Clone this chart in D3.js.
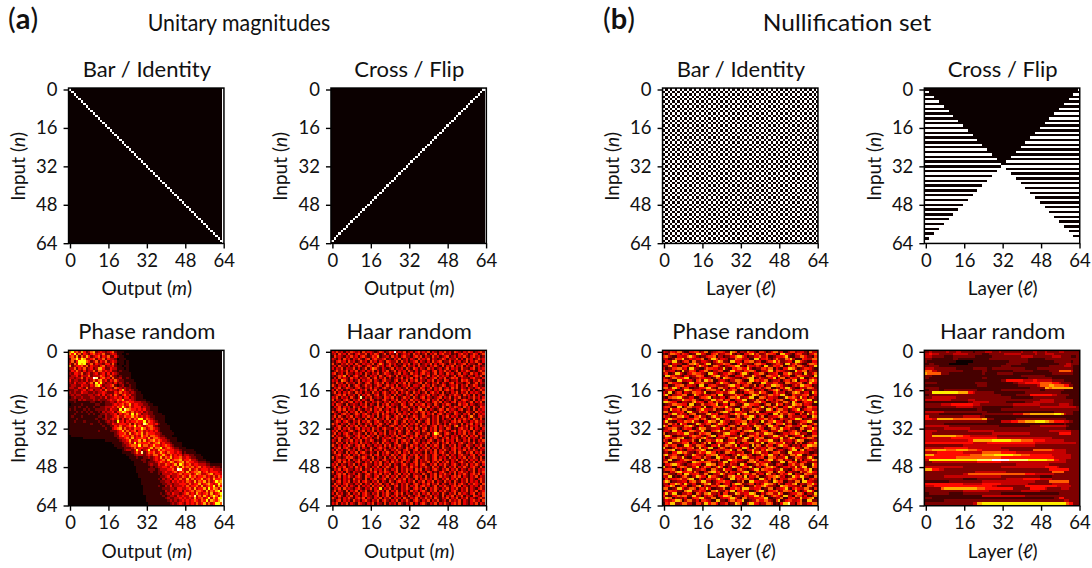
<!DOCTYPE html>
<html>
<head>
<meta charset="utf-8">
<script src="https://cdnjs.cloudflare.com/ajax/libs/d3/7.8.5/d3.min.js"></script>
<style>
body { margin: 0; background: #fff; }
text { font-family: Lato, "Noto Sans", sans-serif; fill: #111; }
</style>
</head>
<body>
<div id="chart"></div>
<script>
// tick labels shared by all panels
var tickValues = [0, 16, 32, 48, 64];

// bright column in each row (last entry is the clipped bottom row, which has none)
var barColumns = [0,1,2,3,4,5,6,7,8,9,10,11,12,13,14,15,16,17,18,19,20,21,22,23,24,25,26,27,28,29,30,31,32,33,34,35,36,37,38,39,40,41,42,43,44,45,46,47,48,49,50,51,52,53,54,55,56,57,58,59,60,61,62,63,-1];
var crossColumns = [63,62,61,60,59,58,57,56,55,54,53,52,51,50,49,48,47,46,45,44,43,42,41,40,39,38,37,36,35,34,33,32,31,30,29,28,27,26,25,24,23,22,21,20,19,18,17,16,15,14,13,12,11,10,9,8,7,6,5,4,3,2,1,0,-1];

// checkerboard rows
var checkA = "10101010 10101010 10101010 10101010 10101010 10101010 10101010 10101010 1";
var checkB = "01010101 01010101 01010101 01010101 01010101 01010101 01010101 01010101 0";
var checkOrder = "ABABABABABABABABABABABABABABABABABABABABABABABABABABABABABABABABA";

// white run [from, to] in each row of the flip nullification
var flipFrom = [64,0,62,0,60,0,58,0,56,0,54,0,52,0,50,0,48,0,46,0,44,0,42,0,40,0,38,0,36,0,34,0,32,0,30,0,28,0,26,0,24,0,22,0,20,0,18,0,16,0,14,0,12,0,10,0,8,0,6,0,4,0,2,0];
var flipTo = [64,1,64,3,64,5,64,7,64,9,64,11,64,13,64,15,64,17,64,19,64,21,64,23,64,25,64,27,64,29,64,31,64,33,64,35,64,37,64,39,64,41,64,43,64,45,64,47,64,49,64,51,64,53,64,55,64,57,64,59,64,61,64,64];

// colour value of each level 0-9, per table
var levelsPhaseUnitary = [0, 0.08, 0.17, 0.27, 0.38, 0.5, 0.62, 0.75, 0.88, 1];
var levelsHaarUnitary = [0, 0.11, 0.22, 0.33, 0.44, 0.55, 0.67, 0.78, 0.89, 1];
var levelsPhaseNull = [0, 0.1, 0.19, 0.27, 0.34, 0.42, 0.52, 0.66, 0.88, 1];
var levelsHaarNull = [0, 0.1, 0.18, 0.28, 0.38, 0.5, 0.62, 0.72, 0.85, 1];
var levelsPlain = [0, 0.11, 0.22, 0.33, 0.44, 0.55, 0.67, 0.78, 0.89, 1];

// levels 0-9
var phaseUnitary = [
"57453642 35623432 34521110 00000000 00000000 00000000 00000000 00000000",
"64735243 24534352 23431100 10000000 00000000 00000000 00000000 00000000",
"45362536 42345243 52242110 00000000 00000000 00000000 00000000 00000000",
"25574763 34524352 43320111 00000000 00000000 00000000 00000000 00000000",
"35247775 42352435 23431110 10000000 00000000 00000000 00000000 00000000",
"42537672 35243324 42520110 10000000 00000000 00000000 00000000 00000000",
"62344535 24332452 33421101 10000000 00000000 00000000 00000000 00000000",
"33524352 34236642 24331110 10000000 00000000 00000000 00000000 00000000",
"24353242 33525534 34221211 10000000 00000000 00000000 00000000 00000000",
"32443523 42342342 42432111 11000000 00000000 00000000 00000000 00000000",
"23342433 52333542 35321211 11000000 00000000 00000000 00000000 00000000",
"33233524 33982453 42522311 21000000 00000000 00000000 00000000 00000000",
"42332324 23535634 24353221 11100000 00000000 00000000 00000000 00000000",
"32423342 35274732 33242321 21110000 00000000 00000000 00000000 00000000",
"23322433 24367423 34521231 12110000 00000000 00000000 00000000 00000000",
"33224325 23333242 33254323 22110000 00000000 00000000 00000000 00000000",
"22332342 34233425 34332463 23211000 00000000 00000000 00000000 00000000",
"32322433 22323343 22243534 32321100 00000000 00000000 00000000 00000000",
"23233222 33234242 34253245 34221110 00000000 00000000 00000000 00000000",
"12322322 23322324 23343424 42321110 00000000 00000000 00000000 00000000",
"22213232 22323222 34335463 34321111 00000000 00000000 00000000 00000000",
"11211111 12211212 23324344 54433322 11000000 00000000 00000000 00000000",
"01111211 11122112 22343453 46344332 21100000 00000000 00000000 00000000",
"11212112 11211223 33435474 35344423 22111000 00000000 00000000 00000000",
"21211121 21122223 24332738 65443434 22111000 00000000 00000000 00000000",
"11121212 12112132 33424576 43534342 32211000 00000000 00000000 00000000",
"11211111 21211223 23342434 53736423 32211110 00000000 00000000 00000000",
"12111211 11112213 22345335 44645343 43221111 00000000 00000000 00000000",
"11121111 11121123 23435242 35354773 54321111 00000000 00000000 00000000",
"11211121 11112112 32327342 43445447 35432111 00000000 00000000 00000000",
"11111111 12111211 22433444 35253438 64434211 10000000 00000000 00000000",
"11111111 11111121 12243533 45473543 45532111 11000000 00000000 00000000",
"11111111 11111112 11345635 34354475 34543211 11000000 00000000 00000000",
"11111111 11112111 12223463 53452453 43434211 11100000 00000000 00000000",
"11111111 11111111 11123445 36345463 54443321 11110000 00000000 00000000",
"01111111 11111111 11122454 43534364 53554322 11100000 00000000 00000000",
"00000011 11111111 11112334 53634454 36355433 21111000 00000000 00000000",
"00000000 00000001 11111233 46344636 34564543 32111000 00000000 00000000",
"00000000 00000000 00111123 35373544 45345634 33211110 00000000 00000000",
"00000000 00000000 00011122 34554735 53464434 54321110 00000000 00000000",
"00000000 00000000 00001112 22353443 34635573 45432211 10000000 00000000",
"00000000 00000000 00000012 33237423 47343645 44443321 11110000 00000000",
"00000000 00000000 00000011 11235382 35453464 35443431 21111000 00000000",
"00000000 00000000 00000000 11123332 34355346 43534342 33221110 00000000",
"00000000 00000000 00000000 01112112 23234363 54634453 34322111 00000000",
"00000000 00000000 00000000 00111122 11234345 36345563 44533211 10000000",
"00000000 00000000 00000000 00011112 12223454 34653456 35443322 21100000",
"00000000 00000000 00000000 00011111 12322433 54346375 34534433 32211111",
"00000000 00000000 00000000 00001111 11212334 43543636 45453453 43323221",
"00000000 00000000 00000000 00001111 12221233 34453984 33634534 44343332",
"00000000 00000000 00000000 00001111 11211223 43345345 36345563 45344433",
"00000000 00000000 00000000 00000111 11111213 33433453 44534653 34563443",
"00000000 00000000 00000000 00000111 11111122 34233435 43645344 53435354",
"00000000 00000000 00000000 00000011 11111213 23424353 36353446 34536445",
"00000000 00000000 00000000 00000011 11111122 33243434 35436354 63534756",
"00000000 00000000 00000000 00000011 11111112 23323344 43534463 45643475",
"00000000 00000000 00000000 00000001 11111211 32423334 35344536 34547364",
"00000000 00000000 00000000 00000001 11111112 22332443 34536344 63746536",
"00000000 00000000 00000000 00000001 11111111 32323342 43453554 36354673",
"00000000 00000000 00000000 00000001 11111121 23243323 45343643 45363457",
"00000000 00000000 00000000 00000000 11111112 12332434 33548353 64357536",
"00000000 00000000 00000000 00000000 11111111 23223343 43436345 34736477",
"00000000 00000000 00000000 00000000 11111111 12323234 34345435 47365468",
"00000000 00000000 00000000 00000000 01111111 11232343 24343534 63534775"
];

var haarUnitary = [
"32423132 43231423 32124312 43923241 23134232 41321324 23143213 24312342",
"23142314 21342241 32431241 32141232 31423124 13241342 23121342 31243124",
"14232132 42313421 24351223 14231342 21342413 21423123 41231324 21342312",
"32131423 13242134 13422341 21324123 13214232 41321243 13224131 42312423",
"21342314 23124231 42313214 32241423 12341321 31423412 24132312 41324213",
"41213242 31421323 24135312 42312132 41324123 24131342 13241234 13221431",
"23142213 13243124 31242313 41321241 32314223 13242141 32413241 32142312",
"31324132 24131241 35421321 24132314 21431321 42312312 41323142 21341323",
"12423241 32412313 24131324 12413231 42131243 21341324 23124132 43121342",
"34123142 21323142 13241243 21324132 14231342 31241321 42312413 21423124",
"21243513 13421241 32314213 42141323 21342312 41324232 31241342 13213241",
"13142321 42313224 12413241 31232413 24131423 12341324 12434132 21342213",
"32315421 31241323 41321342 21341324 13241321 32413214 31223143 42132431",
"21423142 23142134 21342413 12313241 42123414 21324132 13413221 34124132",
"42132314 12431242 31243124 23141232 41332142 31421243 12324132 41243121",
"13241243 21342132 41321342 14233124 13221431 24132412 31424132 13213423",
"31423121 34213241 32413121 32413421 32313241 32132413 42312143 24131242",
"24131324 21423132 14231342 13241324 21423124 13423141 21324132 41323214",
"12342413 23141324 21341242 31413213 24131232 41321342 13243214 23141321",
"32413231 42138132 41232143 24131242 31421341 32123413 24132412 13242313",
"41321342 13241321 43121342 13241323 14232132 41324131 23142134 32141324",
"23124213 41323142 13242132 41324231 32414213 21342413 21341323 12413241",
"31432141 23213241 32141324 13221431 24132341 32142132 43121423 41321232",
"13241323 14231342 21342413 42131243 12314232 41323142 13243214 23142143",
"21342413 23142132 41324123 13241322 41324514 13212431 42321341 23141323",
"42131241 32414213 21342314 23142132 13241342 31241324 13243121 43214232",
"13213423 12431342 13241423 12314232 41321241 32413421 32143213 24141323",
"24142132 41321324 23141324 21342413 12431243 21324132 41323142 13521342",
"31324213 24132141 32412314 13242134 23141322 41324131 23141324 23142141",
"12431342 13241324 21342132 41431241 32314213 41324123 21342413 21324232",
"42313214 23142132 41324213 12431324 13242132 41324213 14232141 32413241",
"21342141 32413241 32143121 34213241 32131423 12341324 23145132 41323142",
"13241324 21341323 14231342 21342314 23142134 13241321 43121342 31413213",
"32413213 42132413 24132141 32314213 41323142 13241423 21341324 23142132",
"24131342 13242141 32413241 32413214 32143122 41375213 42131324 13241341",
"41321243 21342314 23142132 13241342 13241324 21342413 21323142 41324132",
"13243124 13241342 31241323 42134213 24132314 13242132 41324123 14232141",
"32141232 41324132 43121342 13241342 31423121 34213241 32314213 24131324",
"21423141 32314232 13241423 21341324 21342132 41324132 41321342 13241232",
"42131324 21342413 21323142 41324213 14231324 13243142 13241321 43213241",
"13241342 13241321 42134231 32413214 23142132 41323142 21342313 24131423",
"31423124 23142132 41323142 13242134 21341324 23141324 21341324 13242132",
"24132141 32413421 32141324 21324132 41323214 13241342 13241421 32413241",
"12341324 13241232 41341323 14231342 13241324 21342132 41321342 21341323",
"41321243 42132431 24132141 32413241 32143124 21341323 14231324 13242141",
"21342314 13241323 14231342 13241342 31241324 21342413 21324132 41323142",
"13241423 21342132 41324123 14232413 21341322 41324132 41321342 13241324",
"32413213 24131342 21324132 41321342 13241342 13241324 21342132 41324213",
"24132412 31423142 13241324 21341323 14231324 21423124 13241324 21342141",
"13241342 21324132 41323142 13241324 23142413 21342132 41324132 13241323",
"41323142 13221341 32413243 21341324 13241321 43121342 13241342 31241324",
"21342413 23142134 21324132 41324132 41322142 13241324 23141324 21342413",
"13241324 21342143 21341324 13241324 21342314 13241423 21342413 21324132",
"42131323 14232141 32412341 32413241 32141324 23142132 41324132 41321342",
"21341324 13241342 13241321 42134231 32413241 32413214 23142132 41323142",
"14231342 21324132 41324123 14231324 21342132 41324132 13241342 13243214",
"32413241 32141323 14232413 21341324 13241342 31241324 21342413 21323142",
"13241423 21342132 41326132 41321324 21342314 13242132 41324132 41321342",
"24132141 32413241 21342314 13241323 14231342 13241324 21342132 41324123",
"31423124 13241342 13241324 21342413 21324132 41323142 13241423 21341324",
"13242132 41321342 21341324 13241321 42134213 24132141 32413241 32143214",
"42131324 21342413 21324132 41323142 13241324 23142132 41324132 41321342",
"21341323 14231342 13241342 13241324 21342132 41324123 14232413 21342314",
"32413241 32143213 24132141 32314213 24131342 13241324 21342413 21324132"
];

var phaseNull = [
"43254366 21144552 36612345 54227651 33264421 55312466 24113552 34421633",
"21366542 54312277 43114562 33557213 11446735 22365541 17743214 55221346",
"56321144 33675421 22455613 31224467 75312244 63351124 44572113 36642215",
"33112655 72243344 61137752 44312265 53341177 24452136 32265731 11543366",
"14437721 35516622 44321357 62217744 31556623 41135574 62234417 75321144",
"55214433 11366752 24771233 46552114 73322156 64411235 53177246 32114665",
"22673311 55423147 53312664 21345577 22164435 31772254 46113352 66421337",
"41225566 34177321 13655442 37211546 64473112 25536614 21447763 12355421",
"63344121 72255413 46621335 51127744 32556641 13347725 54322117 44661322",
"35112774 21346655 32177431 24465312 57731244 66213345 11557624 33172246",
"17755332 14423366 51124677 33521144 46222753 31166544 72345113 65433217",
"42136644 57712235 44331265 17654322 13467712 53224471 36612544 27711353",
"55321177 33442156 27756113 44213366 52117745 34661233 41355267 14442675",
"21664433 11277345 63322144 75531226 44366112 17743355 22166433 56213744",
"34112556 62443317 71145532 22367744 13552261 45133776 64221135 37755412",
"66237741 35511224 45773216 63314425 77221334 52466113 25377421 14336652",
"13445112 27763344 21556633 17244651 33675512 24113467 51336624 45712233",
"42771355 14326655 37112244 53367721 21446633 75521146 33412267 62244175",
"57213344 66112753 24435517 71223364 54113776 12336645 47721153 33556124",
"21556677 32244113 55671322 44136657 22347711 66524433 11275564 27341352",
"34112233 75546621 13327745 62551134 47712326 33164425 56211347 43657712",
"77654411 33226745 41155263 37724413 55312266 74411335 22663174 11354427",
"12336655 44177122 63345571 24416632 13775544 21366127 45132276 56244311",
"45521177 13663344 27112556 54733211 36645122 57213364 11447752 33126644",
"33174452 66221135 74433612 21556377 14223665 32177514 66331245 71245533",
"66213344 51773226 45512133 67742144 53316627 11244356 73551224 44613375",
"21447735 33156612 22674451 13325576 46712233 54431177 26336541 15227364",
"53312266 74411557 33126743 55421136 22557741 36113344 67215533 32441176",
"14775533 21344662 56213377 12446655 31277123 44663521 15332447 76122354",
"47221144 36557331 14476622 75331244 56614233 17225574 43136612 24557721",
"32663517 44112276 33551247 64412235 17733452 21466315 55724411 36331246",
"75114433 26675214 41227753 33146621 44352276 63317744 21156633 42775513",
"23556621 35441137 66223344 17551326 62344117 54112663 37445221 16623475",
"44317745 11266533 72114567 33225544 13667712 25541334 76213356 24117743",
"61223354 47733126 45661123 26774431 55213346 33776621 12443557 62331144",
"37751122 33246654 21357714 56442233 71136645 14223377 53361124 45712266",
"25443366 71125533 67422144 33156672 24773155 66112344 37225761 13446652",
"53116672 44336217 12553376 71244513 36621147 43557722 16334425 76611233",
"14772233 55614421 36271145 53367724 12446633 27115564 44723316 25113547",
"46335511 27742266 53114437 22665371 44331726 51264413 67552132 31447766",
"72113645 33556127 24477113 65213344 27751163 34426652 11335574 42166323",
"35667124 21443355 76121344 33557216 61144733 25376612 44213577 16724432",
"23114477 56322136 44775513 12664423 35112746 73341255 62217734 45533112",
"67335521 14227643 31556672 44211337 55634112 26447733 15322664 77113245",
"41256633 72114455 26331177 53442261 17763324 45116652 33471126 54226731",
"33771124 46653312 71244536 12377554 43216635 11557724 66243317 25134476",
"56122344 33117765 45662213 37714452 22156673 54334112 27716645 13452233",
"14467753 21335544 12776613 46225331 77411236 35672214 53114463 36621175",
"72331146 65224471 36441257 51133764 24557213 41366752 12445337 24771165",
"35556214 13772233 54116632 27443115 63212477 16554423 37221146 53364712",
"21143677 44552631 13367745 22615433 46771125 32246613 75514422 16336754",
"66322145 17734452 26611334 75244317 13553662 44176231 25347714 32165533",
"43771212 56213376 44175532 13266744 52714436 11235567 63412275 47733116",
"15234456 33677114 21553367 42117725 34663311 77425162 14336654 22711453",
"57612233 44156623 77331245 56442113 26117744 33552176 45113326 61774432",
"33155764 27324411 36672254 13441577 62235513 24776631 52144367 13325574",
"24476113 55113367 14225536 77631442 35112264 46753321 17664433 25116632",
"66112377 42366514 53741122 36114465 27773344 51226613 34572146 43366215",
"13554422 16772335 44116673 22537714 46331125 77214456 23665517 31247741",
"47237711 33541164 26673324 15512276 33447761 14256633 75112344 66413327",
"52114465 66227733 14355214 47766123 21534477 36112465 42773316 55241136",
"37661323 24114557 73226611 34457752 16623344 55771123 36114452 27335671",
"24335776 13662241 55431177 22146635 57112336 44663215 71245533 46117722",
"15477223 66331155 27746641 33512276 41157744 23366512 14778331 56224466"
];

var haarNull = [
"22322222 23222332 22221222 23332223 22222222 32222332 22322222 33222222",
"33433322 22223333 33222222 11122222 23333333 22222232 22333322 22222222",
"33322222 11112222 22222111 11112222 22222222 33333222 22222333 32222112",
"22211111 11112211 11111111 11122222 22222222 22211111 11222222 22222222",
"21111111 11111000 00001111 11111111 11122222 22211111 11111122 22222122",
"11221111 11000000 00111111 11111111 11222222 11111111 11111111 22233222",
"22222211 11111111 11111111 11111111 22221111 11111111 11112222 22333211",
"33332222 22222111 11112222 22112222 22222222 22111112 22222222 22222211",
"55533222 22222222 11111111 22111111 11111222 22222111 11112222 55555311",
"65555552 22111111 11111111 21111122 22222111 11111111 11111222 22222211",
"22211111 11111111 11111111 11111111 11111111 22222222 22111111 11111111",
"22111111 11111111 11111111 22111111 11111111 11122222 22222111 11111111",
"11111111 11111111 11111111 11111111 22444444 43333443 33333222 22111111",
"22222111 11111111 11111222 22111111 11111223 33444444 55555444 32222111",
"11111111 11111111 11111122 22111111 11111112 22222223 55556655 55442211",
"22222211 11111111 11111111 11111111 11111111 11112222 22665666 66666611",
"11222211 22222222 22222211 11111111 22222222 22222222 11222222 22111111",
"22277777 77777766 66443222 22222111 11111111 11222222 22222222 21111111",
"11222222 22222222 22222222 22222222 11111122 22224444 44444332 22221111",
"22233333 33333222 22222222 22222222 22221111 11111222 22222222 22211111",
"33333333 33322222 22333222 22222222 22222222 22222222 33333322 22222211",
"11111111 11111111 11223333 33322222 22111111 11222333 33333322 22222211",
"22222223 33344444 44443332 22222222 22222333 33333333 22222222 33332211",
"22222222 22222333 33332222 11111111 11111222 22222222 33333333 33333332",
"11111111 11111111 11111122 11111111 22222222 22222222 22222222 22222222",
"33333333 22222222 22222222 22111111 11111111 11111111 11111122 22222211",
"22222211 11111111 11111111 22222222 22222333 35556666 66666677 76322211",
"44222222 22222222 33333332 21111111 11111111 11111111 11111111 11111111",
"44433666 66665555 55555555 66222111 11111122 22222222 22222222 22211111",
"22222222 22222222 22222222 22111111 33334445 55666677 77665544 44332211",
"22222222 11111111 11111111 11111111 11111111 11111111 11111111 11211111",
"33333333 33222222 22222222 22222221 11111111 11112222 33333333 33321111",
"22222222 33333333 33322222 22222222 22222222 22222222 22222222 22211111",
"33333222 22222222 22333333 33333222 22222222 22222222 22223333 33333222",
"33322222 22222222 22222222 22223333 33333333 33332222 22222222 44444222",
"33366666 66666555 44433333 33333322 22222222 22222222 22222222 22222222",
"33333333 33344444 44444444 44444433 33333333 33333333 33333222 22222222",
"33333333 33333333 33446666 66667777 77776666 55555444 44333333 33222222",
"44444444 44444444 44443333 33444444 44444444 44444433 33333333 33333332",
"22222222 22222222 33333333 33333333 33333333 33333322 22222222 22222222",
"33333333 44444444 44333333 33333333 22222222 22222222 22222222 22222222",
"55566666 65555666 66555544 33333333 33322222 22222555 55555433 33322222",
"33333444 44444444 33333333 55555555 44444433 33333333 33333333 33322222",
"66664444 44444444 44455555 66666777 77777666 55554444 44444333 33333222",
"44444444 44444555 55555555 55555555 44444444 44444444 44444433 33333222",
"33777777 77777777 77777788 88889999 99988888 88877777 77766644 33322222",
"22233333 33333333 33333344 44444444 33333333 33333333 33333333 33322222",
"22222222 22222222 22222222 22222222 22222233 33333333 33332222 22222222",
"33333333 33333333 22222222 22222222 33333333 33333333 33444443 22222222",
"66644433 22222222 22222222 22222222 22222222 22222222 22224444 44442222",
"22222222 22222222 22222333 33333333 33222222 22222222 22222555 55222222",
"22222222 22222222 33555555 55555555 55555555 55444433 33333322 22222222",
"22222222 33333333 33333333 33333333 22222222 22222222 11111222 22222222",
"22222222 22222222 11111122 22222222 22333333 34444444 33333222 22222222",
"11111111 11222222 22222222 33333333 33333333 33333322 22225555 55552222",
"44444444 44444444 33333333 44444444 33333333 33322222 22222333 33332222",
"33334444 44444444 44444444 44443322 22222222 22444444 44444443 33333222",
"22222225 66666666 66666655 54444444 44444222 22224444 44322222 23332222",
"22222222 22222222 33333333 33322222 22222222 33333333 22222222 22222222",
"11222222 22111111 22222222 22222222 11111111 11111111 11111111 22222222",
"11111111 11111111 11111111 33333333 33333333 33222222 22222222 22222222",
"22211111 11111111 11111111 11111111 11111111 11111111 11111122 44222222",
"11111111 22222222 22222222 22222222 22222222 22222222 22222222 22332222",
"22222222 22222222 22223366 77777777 77777777 77777777 77777777 77754422"
];

var panelTitles = ["Bar / Identity", "Cross / Flip", "Phase random", "Haar random"];
var sectionTitles = ["Unitary magnitudes", "Nullification set"];
var sectionLetters = ["a", "b"];

// turn the tables into rows of levels
function parseRows(rows) {
  return rows.map(function(r) { return r.replace(/ /g, "").split("").map(Number); });
}
function fromColumns(cols) {
  return cols.map(function(c) {
    return d3.range(64).map(function(j) { return j === c ? 9 : 0; });
  });
}
// the unitary panels carry a bright last column
function withEdge(rows) {
  return rows.map(function(r) { return r.concat([9]); });
}
// repeat the last row and column so the clipped half cells are filled
function padded(rows) {
  var out = rows.map(function(r) { return r.length < 65 ? r.concat([r[r.length - 1]]) : r; });
  out.push(out[out.length - 1]);
  return out;
}

var checkerRows = checkOrder.split("").map(function(k) {
  return (k === "A" ? checkA : checkB).replace(/ /g, "").split("").map(function(v) { return +v * 9; });
});
var flipRows = flipFrom.map(function(from, i) {
  return d3.range(65).map(function(j) { return (j >= from && j <= flipTo[i]) ? 9 : 0; });
});
flipRows.push(d3.range(65).map(function() { return 9; }));

var w = 1092, h = 568;
var tickSpan = 153.7, rowTop = [89.5, 351.8], colLeft = [70, 332.4, 664, 925.8];

var svg = d3.select("#chart").append("svg")
  .attr("width", w)
  .attr("height", h)
  .style("display", "block");

var defs = svg.append("defs");

// softening, the picture was resampled
defs.append("filter").attr("id", "soft")
  .attr("color-interpolation-filters", "sRGB")
  .append("feGaussianBlur").attr("stdDeviation", 0.6);

// matplotlib "hot"
var hot = d3.scaleLinear()
  .domain([0, 0.04, 0.365, 0.746, 1])
  .range(["#0b0000", "#1c0000", "#ff0000", "#ffff00", "#ffffff"]);

var panels = [
  {col: 0, row: 0, title: panelTitles[0], data: withEdge(fromColumns(barColumns)), levels: levelsPlain, xName: "Output", sym: "m"},
  {col: 1, row: 0, title: panelTitles[1], data: withEdge(fromColumns(crossColumns)), levels: levelsPlain, xName: "Output", sym: "m"},
  {col: 0, row: 1, title: panelTitles[2], data: padded(withEdge(parseRows(phaseUnitary))), levels: levelsPhaseUnitary, xName: "Output", sym: "m"},
  {col: 1, row: 1, title: panelTitles[3], data: padded(withEdge(parseRows(haarUnitary))), levels: levelsHaarUnitary, xName: "Output", sym: "m"},
  {col: 2, row: 0, title: panelTitles[0], data: checkerRows, levels: levelsPlain, xName: "Layer", sym: "\u2113"},
  {col: 3, row: 0, title: panelTitles[1], data: flipRows, levels: levelsPlain, xName: "Layer", sym: "\u2113"},
  {col: 2, row: 1, title: panelTitles[2], data: padded(parseRows(phaseNull)), levels: levelsPhaseNull, xName: "Layer", sym: "\u2113"},
  {col: 3, row: 1, title: panelTitles[3], data: padded(parseRows(haarNull)), levels: levelsHaarNull, xName: "Layer", sym: "\u2113"}
];

panels.forEach(function(p, idx) {
  var left = colLeft[p.col], top = rowTop[p.row];
  var x = d3.scaleLinear().domain([0, 64]).range([left, left + tickSpan]);
  var y = d3.scaleLinear().domain([0, 64]).range([top, top + tickSpan]);
  var g = svg.append("g");
  var cellW = x(1) - x(0), cellH = y(1) - y(0);

  defs.append("clipPath").attr("id", "clip" + idx).append("rect")
    .attr("x", x(-0.6)).attr("y", y(-0.6))
    .attr("width", x(64.1) - x(-0.6)).attr("height", y(64.1) - y(-0.6));

  var cells = [];
  p.data.forEach(function(row, i) {
    row.forEach(function(v, j) { cells.push({i: i, j: j, v: v}); });
  });

  g.append("g").attr("clip-path", "url(#clip" + idx + ")")
    .append("g").attr("filter", "url(#soft)")
    .selectAll("rect")
    .data(cells)
    .enter()
    .append("rect")
    .attr("x", function(d) { return x(d.j - 0.5); })
    .attr("y", function(d) { return y(d.i - 0.5); })
    .attr("width", cellW)
    .attr("height", cellH)
    .attr("fill", function(d) { return hot(p.levels[d.v]); })
    .attr("shape-rendering", "crispEdges");

  // frame
  g.append("rect")
    .attr("x", x(-0.6)).attr("y", y(-0.6))
    .attr("width", x(64.1) - x(-0.6)).attr("height", y(64.1) - y(-0.6))
    .attr("fill", "none").attr("stroke", "#000").attr("stroke-width", 1.5);

  var xAxis = g.append("g")
    .attr("transform", "translate(0," + y(64.1) + ")")
    .call(d3.axisBottom(x).tickValues(tickValues).tickSize(5).tickPadding(5));
  var yAxis = g.append("g")
    .attr("transform", "translate(" + x(-0.6) + ",0)")
    .call(d3.axisLeft(y).tickValues(tickValues).tickSize(5).tickPadding(6));
  [xAxis, yAxis].forEach(function(a) {
    a.select(".domain").remove();
    a.selectAll("line").attr("stroke", "#000").attr("stroke-width", 1.4);
    a.selectAll("text").attr("fill", "#111").style("font-size", "18.5px").style("font-family", "Lato, 'Noto Sans', sans-serif");
  });

  g.append("text")
    .attr("x", x(32)).attr("y", top - 13)
    .attr("text-anchor", "middle")
    .style("font-size", "22px")
    .text(p.title);

  var xl = g.append("text")
    .attr("x", x(32)).attr("y", top + tickSpan + 52)
    .attr("text-anchor", "middle")
    .style("font-size", "19px");
  xl.append("tspan").text(p.xName + " (");
  xl.append("tspan").style("font-style", "italic").text(p.sym);
  xl.append("tspan").text(")");

  var yl = g.append("text")
    .attr("transform", "translate(" + (left - 45) + "," + y(32) + ") rotate(-90)")
    .attr("text-anchor", "middle")
    .style("font-size", "19px");
  yl.append("tspan").text("Input (");
  yl.append("tspan").style("font-style", "italic").text("n");
  yl.append("tspan").text(")");
});

// section headings
var sectionCenter = [239, 847], sectionStretch = [0.89, 1.02], letterX = [8, 603];
sectionTitles.forEach(function(t, i) {
  svg.append("text")
    .attr("transform", "translate(" + sectionCenter[i] + ",31) scale(" + sectionStretch[i] + ",1)")
    .attr("text-anchor", "middle")
    .style("font-size", "24px")
    .text(t);
  var l = svg.append("text")
    .attr("x", letterX[i]).attr("y", 29)
    .style("font-size", "29px");
  l.append("tspan").text("(");
  l.append("tspan").style("font-weight", "bold").text(sectionLetters[i]);
  l.append("tspan").text(")");
});
</script>
</body>
</html>
